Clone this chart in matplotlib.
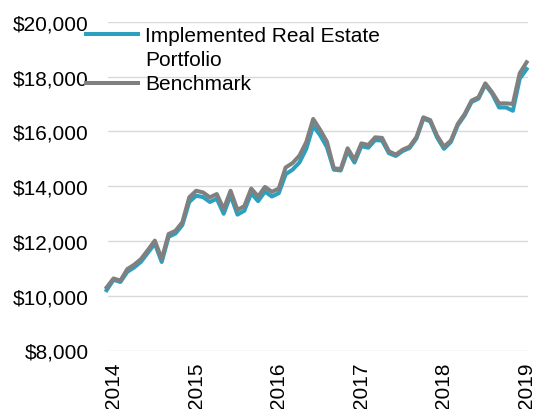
import matplotlib
matplotlib.use("Agg")
import matplotlib.pyplot as plt
from matplotlib.lines import Line2D
from matplotlib.ticker import FuncFormatter

# Monthly values, Dec 2013 .. Jan 2019
benchmark = [10300, 10630, 10550, 10970, 11130, 11340, 11670, 12010, 11340, 12250,
             12370, 12680, 13590, 13830, 13770, 13590, 13710, 13160, 13830, 13130,
             13270, 13910, 13620, 13970, 13790, 13910, 14680, 14840, 15110, 15610,
             16450, 16060, 15620, 14650, 14620, 15380, 14960, 15560, 15500, 15780,
             15760, 15270, 15150, 15330, 15440, 15790, 16510, 16410, 15840, 15440,
             15660, 16270, 16630, 17120, 17240, 17750, 17420, 17020, 17020, 17000,
             18120, 18520]
portfolio = [10200, 10580, 10500, 10870, 11030, 11240, 11570, 11900, 11230, 12150,
             12270, 12580, 13420, 13650, 13600, 13420, 13540, 12990, 13660, 12960,
             13100, 13740, 13450, 13800, 13620, 13740, 14430, 14600, 14860, 15360,
             16200, 15860, 15420, 14600, 14570, 15280, 14860, 15460, 15400, 15680,
             15660, 15200, 15100, 15280, 15390, 15740, 16460, 16360, 15770, 15360,
             15610, 16220, 16580, 17070, 17190, 17700, 17370, 16870, 16870, 16750,
             17920, 18270]
year_labels = ["2014", "2015", "2016", "2017", "2018", "2019"]
year_positions = [1, 13, 25, 37, 49, 61]
y_ticks = [8000, 10000, 12000, 14000, 16000, 18000, 20000]
series_names = ["Implemented Real Estate\nPortfolio", "Benchmark"]

TEAL = "#2CA0BF"
GRAY = "#808080"

plt.rcParams['font.family'] = ['Liberation Sans', 'DejaVu Sans']

fig = plt.figure(figsize=(5.35, 4.10), dpi=100)
ax = fig.add_axes([108/535, 1 - 351.5/410, (528-108)/535, (351.5-22.7)/410])

x = list(range(len(benchmark)))
ax.plot(x, portfolio, color=TEAL, lw=2.9, clip_on=False, solid_joinstyle='round', zorder=3)
ax.plot(x, benchmark, color=GRAY, lw=2.9, clip_on=False, solid_joinstyle='round', zorder=4)

ax.set_ylim(8000, 20000)
ax.set_xlim(0.2, 61.2)
ax.set_yticks(y_ticks)
ax.yaxis.set_major_formatter(FuncFormatter(lambda v, p: "${:,.0f}".format(v)))
ax.set_xticks(year_positions)
ax.set_xticklabels(year_labels, rotation=90)
ax.tick_params(axis='both', length=0, labelsize=15, colors='black')
ax.tick_params(axis='y', pad=14)
ax.tick_params(axis='x', pad=8)
ax.grid(axis='y', color='#D9D9D9', lw=1.0)
ax.set_axisbelow(True)
for s in ax.spines.values():
    s.set_visible(False)

# Legend (manual, handle aligned to first label line)
def fy(px):
    return 1 - px / 410

fig.add_artist(Line2D([86/535, 138/535], [fy(35), fy(35)], color=TEAL, lw=2.9))
fig.add_artist(Line2D([86/535, 138/535], [fy(84), fy(84)], color=GRAY, lw=2.9))
fig.text(145/535, fy(41.7), series_names[0].split("\n")[0], fontsize=15, va='baseline')
fig.text(145/535, fy(65.7), series_names[0].split("\n")[1], fontsize=15, va='baseline')
fig.text(145/535, fy(90), series_names[1], fontsize=15, va='baseline')

fig.savefig("out.png", dpi=100)
